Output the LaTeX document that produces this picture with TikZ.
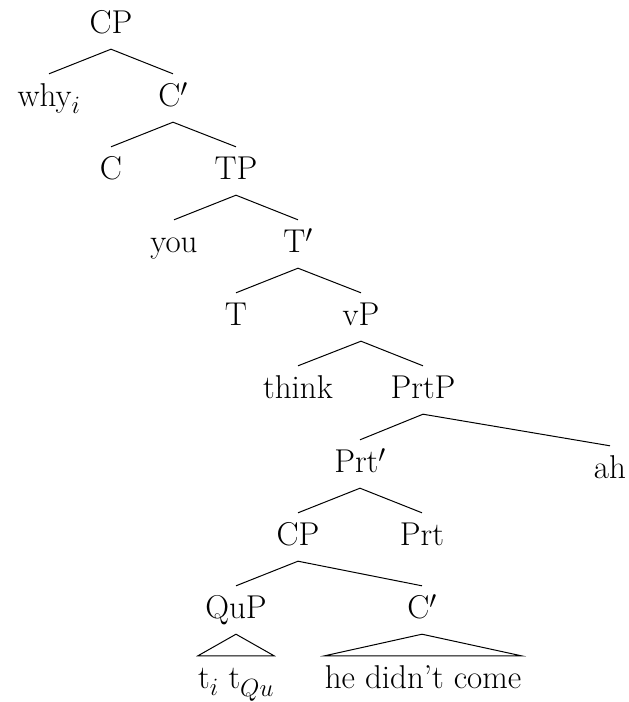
\documentclass[tikz,border=0pt]{standalone}
\tikzset{
	cat/.style={anchor=base, inner xsep=0pt, inner ysep=10pt, text height=22pt, text depth=6pt, font=\fontsize{33}{40}\selectfont},
	branch/.style={line width=1pt}
}
\begin{document}
\begin{tikzpicture}[x=1pt, y=1pt]
			\useasboundingbox (0, 0) rectangle (629, -702);

			\node[cat] (cp1) at (111, -33){CP};
			\node[cat] (why) at (49, -106){why$_i$};
			\node[cat] (cbar1) at (173, -106){C$'$};
			\node[cat] (c) at (111, -179){C};
			\node[cat] (tp) at (236, -179){TP};
			\node[cat] (you) at (174, -252){you};
			\node[cat] (tbar) at (298, -252){T$'$};
			\node[cat] (t) at (236, -325){T};
			\node[cat] (vp) at (361, -325){vP};
			\node[cat] (think) at (298, -398){think};
			\node[cat] (prtp) at (423, -398){PrtP};
			\node[cat] (prtbar) at (360, -472){Prt$'$};
			\node[cat] (ah) at (610, -478){ah};
			\node[cat] (cp2) at (298, -545){CP};
			\node[cat] (prt) at (422, -545){Prt};
			\node[cat] (qup) at (236, -618){QuP};
			\node[cat] (cbar2) at (422, -618){C$'$};
			\node[cat] (traces) at (236, -688){t$_i$ t$_{Qu}$};
			\node[cat] (clause) at (423, -688){he didn't come};

			\draw[branch] (why.north) -- (cp1.south) -- (cbar1.north);
			\draw[branch] (c.north) -- (cbar1.south) -- (tp.north);
			\draw[branch] (you.north) -- (tp.south) -- (tbar.north);
			\draw[branch] (t.north) -- (tbar.south) -- (vp.north);
			\draw[branch] (think.north) -- (vp.south) -- (prtp.north);
			\draw[branch] (prtbar.north) -- (prtp.south) -- (ah.north);
			\draw[branch] (cp2.north) -- (prtbar.south) -- (prt.north);
			\draw[branch] (qup.north) -- (cp2.south) -- (cbar2.north);

			% roofs over unanalysed material
			\draw[branch] (qup.south) -- (traces.north west) -- (traces.north east) -- cycle;
			\draw[branch] (cbar2.south) -- (clause.north west) -- (clause.north east) -- cycle;
		\end{tikzpicture}
\end{document}
